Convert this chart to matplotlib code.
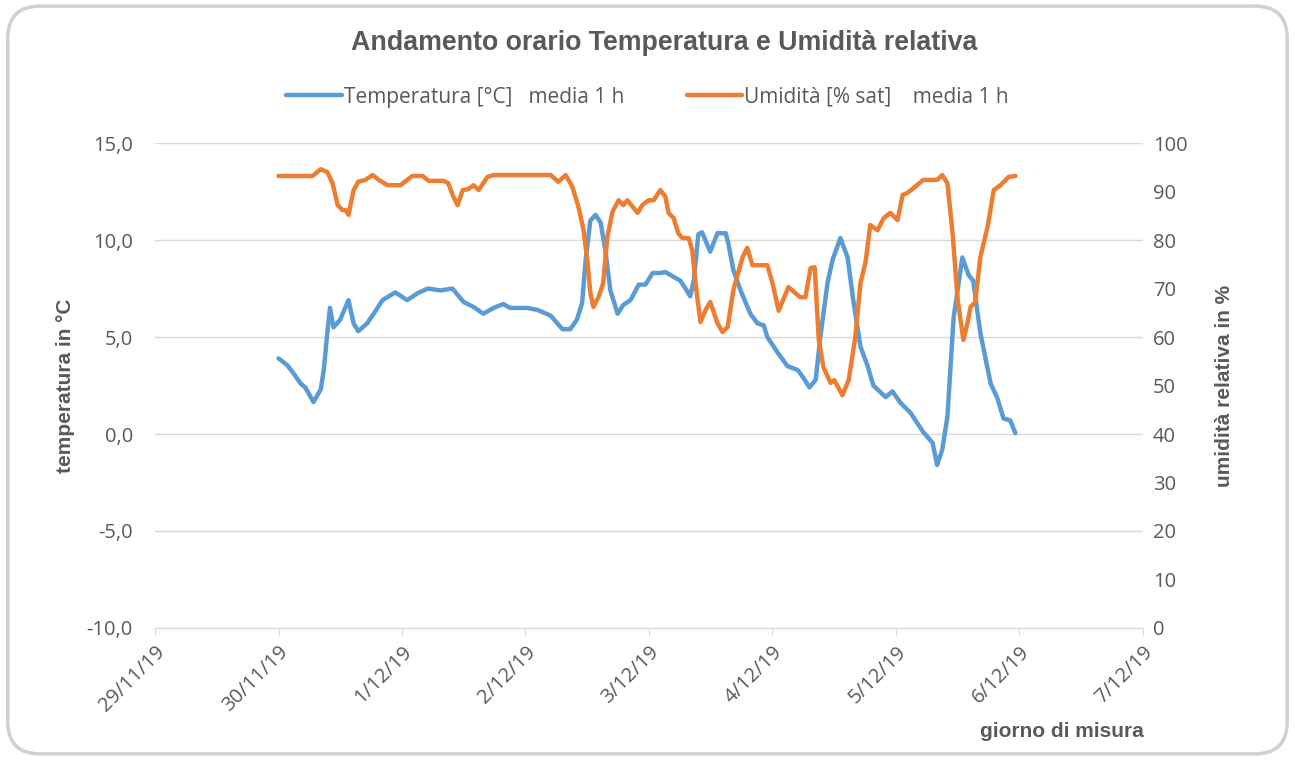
import matplotlib.pyplot as plt
from matplotlib.patches import FancyBboxPatch

# ore dalle 00:00 del 30/11/19
ore_t = [0, 1.7, 3, 4.3, 5.2, 6.8, 8.2, 8.8, 9.4, 10, 10.7, 12, 13.6, 14.6, 15.5, 17.2, 18.5,
         20.2, 22.7, 25, 27, 29, 31.5, 33.8, 36, 37.9, 39.8, 41.8, 43.7, 45, 48.3, 50.3, 52.9,
         55.2, 56.7, 58, 59, 59.7, 60.6, 61.6, 62.6, 63.5, 64.5, 65.9, 67, 68.4, 70, 71.3, 72.7,
         74.2, 75.2, 76.8, 78.1, 79.1, 80, 80.7, 81.6, 82.3, 83.9, 85.3, 86.9, 87.4, 88.4, 89.8,
         91.7, 93.1, 94.3, 95, 97, 98.9, 100.9, 102, 103.2, 104.4, 105.3, 106.7, 107.7, 109.2,
         110.6, 111.7, 113.1, 114.5, 115.6, 118, 119.3, 120.9, 122.8, 125.3, 127.1, 128, 129,
         130, 131.2, 132.9, 134.1, 135, 136.4, 138.4, 139.7, 140.9, 142.2, 143.2]
temperatura = [3.9, 3.55, 3.1, 2.6, 2.4, 1.65, 2.3, 3.3, 5.0, 6.5, 5.5, 5.9, 6.9, 5.7, 5.3, 5.7, 6.2,
               6.9, 7.3, 6.9, 7.25, 7.5, 7.4, 7.5, 6.8, 6.55, 6.2, 6.5, 6.7, 6.5, 6.5, 6.4, 6.1,
               5.4, 5.4, 5.9, 6.75, 9.0, 11.0, 11.3, 10.9, 9.5, 7.4, 6.2, 6.65, 6.9, 7.7, 7.7, 8.3,
               8.3, 8.35, 8.1, 7.9, 7.5, 7.1, 7.9, 10.3, 10.4, 9.4, 10.35, 10.35, 9.85, 8.45, 7.4,
               6.2, 5.7, 5.6, 5.0, 4.2, 3.5, 3.3, 2.9, 2.4, 2.8, 5.0, 7.8, 9.0, 10.1,
               9.1, 6.9, 4.5, 3.5, 2.5, 1.9, 2.2, 1.6, 1.1, 0.1, -0.45, -1.6, -0.8,
               0.9, 6.0, 9.1, 8.2, 7.9, 5.2, 2.6, 1.85, 0.8, 0.7, 0.05]

ore_u = [0, 6.6, 8.2, 9.5, 10.5, 11.5, 12.4, 13, 13.6, 14.6, 15.5, 16.9, 18.3, 19.5, 21.2, 23.7,
         26, 28, 29.2, 32.1, 33, 34, 34.8, 35.8, 36.9, 37.9, 38.9, 40.6, 41.8, 52.9, 54.4, 55.8,
         57.1, 58.3, 59.3, 60, 60.6, 61.2, 62.2, 63.1, 63.9, 64.9, 66.1, 67, 67.8, 69.8, 70.7,
         71.9, 72.9, 74.2, 75.2, 75.8, 76.8, 77.7, 78.5, 79.7, 80.4, 81.2, 82, 83, 83.9, 85.3,
         86.3, 87.3, 88.4, 90.2, 91.1, 92.1, 95, 96, 97.2, 99.1, 101.4, 102.4, 103.4, 104.2,
         105, 105.9, 107.3, 108, 109.6, 110.8, 112.1, 113.1, 114.1, 115, 116.4, 117.6, 118.9,
         120.3, 121.3, 122.2, 123.4, 125.3, 128, 129, 130, 131, 132, 133.1, 133.9, 134.5, 135.4,
         136.4, 137.8, 139, 140.3, 141.9, 143.2]
umidita = [93.2, 93.2, 94.6, 94, 91.7, 87.2, 86.2, 86.2, 85.2, 90.3, 92, 92.4, 93.4, 92.4, 91.3, 91.3,
           93.2, 93.2, 92.2, 92.2, 91.7, 88.9, 87.2, 90.3, 90.5, 91.3, 90.3, 93, 93.4, 93.4, 92, 93.4,
           91, 86.8, 82, 75.9, 69.1, 66.2, 68.3, 71.1, 80.6, 85.8, 88.2, 87.2, 88.2, 85.6, 87.2,
           88.2, 88.2, 90.3, 88.9, 85.6, 84.5, 81.4, 80.4, 80.4, 77.9, 69.7, 63.1, 65.6, 67.2, 62.9,
           61, 62.1, 69.7, 76.5, 78.4, 74.8, 74.8, 71.1, 65.4, 70.3, 68.2, 68.2, 74.2, 74.4,
           59.4, 53.8, 50.5, 51.1, 48, 51.1, 60, 71.1, 75.5, 83.1, 82, 84.5, 85.6,
           84.1, 89.3, 89.7, 90.7, 92.4, 92.4, 93.4, 91.7, 81.4, 67.6, 59.4, 62.9, 66.2, 67.2,
           76.5, 82.7, 90.3, 91.3, 93, 93.2]

giorni = ['29/11/19', '30/11/19', '1/12/19', '2/12/19', '3/12/19', '4/12/19', '5/12/19', '6/12/19', '7/12/19']

blu = '#5B9BD5'
arancio = '#ED7D31'
grigio = '#595959'

fig = plt.figure(figsize=(12.95, 7.6), dpi=100)
# cornice arrotondata
fig.patches.append(FancyBboxPatch((0.006, 0.008), 0.988, 0.984, boxstyle='round,pad=0,rounding_size=0.025',
                                  transform=fig.transFigure, facecolor='none', edgecolor='#D0D0D0',
                                  linewidth=2.5, mutation_aspect=1295/760, zorder=-1))

ax = fig.add_axes([0.1197, 0.1737, 0.7629, 0.6381])
ax2 = ax.twinx()

l1, = ax.plot(ore_t, temperatura, color=blu, lw=3.2, solid_joinstyle='round', solid_capstyle='round',
              label='Temperatura [°C]   media 1 h')
l2, = ax2.plot(ore_u, umidita, color=arancio, lw=3.2, solid_joinstyle='round', solid_capstyle='round',
               label='Umidità [% sat]    media 1 h')

ax.set_xlim(-24, 168)
ax.set_ylim(-10, 15)
ax2.set_ylim(0, 100)
ax.set_yticks(range(-10, 16, 5))
ax.set_yticklabels([f'{v},0' for v in range(-10, 16, 5)])
ax2.set_yticks(range(0, 101, 10))
ax.set_xticks(range(-24, 169, 24))
ax.set_xticklabels(giorni, rotation=45, ha='right', rotation_mode='anchor')

ax.grid(axis='y', color='#D9D9D9', lw=1)
ax.set_axisbelow(True)
for a in (ax, ax2):
    for s in ['top', 'left', 'right', 'bottom']:
        a.spines[s].set_visible(False)
ax.spines['bottom'].set_visible(True)
ax.spines['bottom'].set_color('#D9D9D9')
ax.tick_params(axis='x', colors='#D9D9D9', labelcolor=grigio, labelsize=14.5, length=6, pad=4)
ax.tick_params(axis='y', length=0, labelcolor=grigio, labelsize=14.5, pad=16)
ax2.tick_params(axis='y', length=0, labelcolor=grigio, labelsize=14.5, pad=7)

for t in ax.get_xticklabels() + ax.get_yticklabels() + ax2.get_yticklabels():
    t.set_family('Open Sans')

ax.set_ylabel('temperatura in °C', fontsize=15, fontweight='bold', color=grigio, family='Liberation Sans', labelpad=8)
ax2.set_ylabel('umidità relativa in %', fontsize=15, fontweight='bold', color=grigio, family='Liberation Sans', labelpad=20)
fig.text(0.883, 0.03, 'giorno di misura', ha='right', fontsize=15, fontweight='bold', color=grigio, family='Liberation Sans')

fig.text(0.513, 0.943, 'Andamento orario Temperatura e Umidità relativa', ha='center', va='center',
         fontsize=19.3, fontweight='bold', color=grigio, family='Liberation Sans')

leg = fig.legend(handles=[l1, l2], loc='center', bbox_to_anchor=(0.5, 0.872), ncol=2, frameon=False,
                 handlelength=2.65, columnspacing=3.0, handletextpad=0.1,
                 prop={'family': 'Open Sans', 'size': 15})
for t in leg.get_texts():
    t.set_color(grigio)

fig.savefig('out.png', dpi=100)
